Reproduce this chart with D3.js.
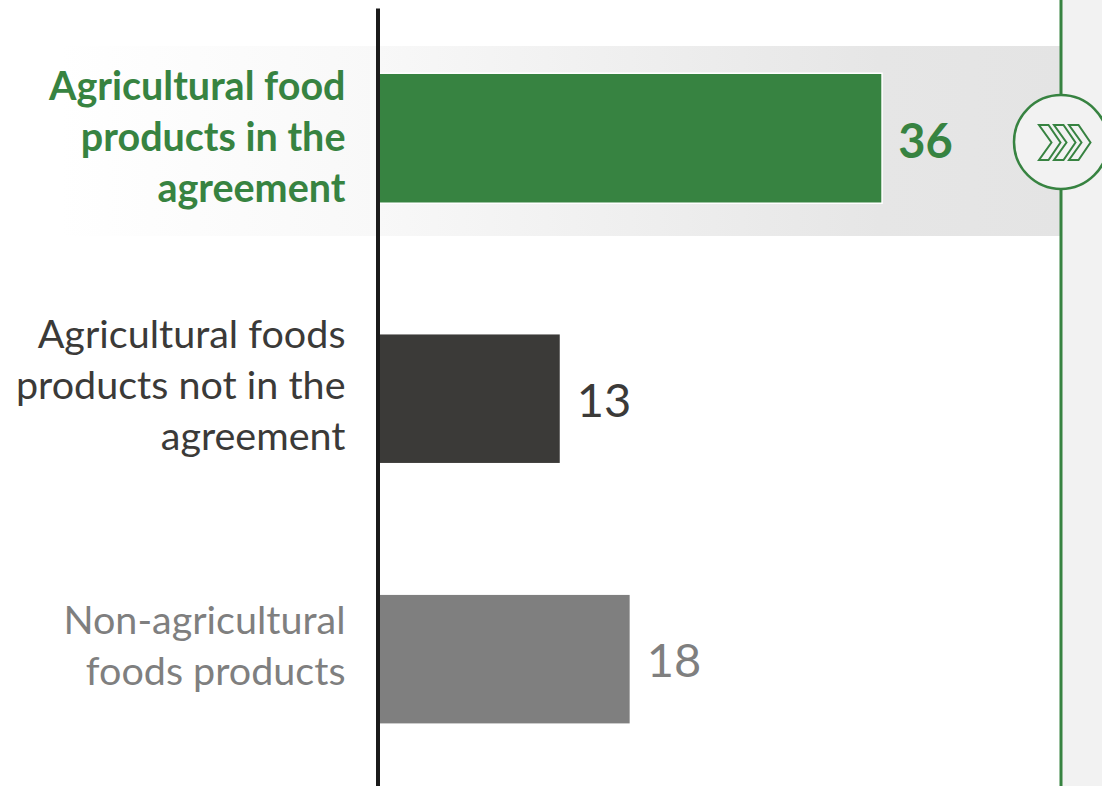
<!DOCTYPE html>
<html>
<head>
<meta charset="utf-8">
<script src="https://cdn.jsdelivr.net/npm/d3@7"></script>
<style>
html,body{margin:0;padding:0;background:#fff;overflow:hidden}
svg{display:block}
text{font-family:Lato,"Open Sans",sans-serif}
</style>
</head>
<body>
<svg id="chart" width="1102" height="786"></svg>
<script>
// Product groups, top to bottom, with their wrapped label lines
const categories = ["in", "notIn", "nonAg"];
const labelLines = [
  ["Agricultural food", "products in the", "agreement"],
  ["Agricultural foods", "products not in the", "agreement"],
  ["Non-agricultural", "foods products"]
];
const values = [36, 13, 18];
const barColors = ["#378341", "#3b3a38", "#7f7f7f"];
const textColors = ["#378341", "#3b3a38", "#7f7f7f"];
const textWeights = [700, 400, 400];

const width = 1102, height = 786;
const axisX = 378, panelX = 1061;
const green = "#378341";

const svg = d3.select("#chart");
const defs = svg.append("defs");

const x = d3.scaleLinear().domain([0, 36]).range([axisX, 881.3]);
const y = d3.scaleBand().domain(categories).range([21.9, 775.5]).paddingInner(0.5067).paddingOuter(0.2);

// Pale side panel on the right
svg.append("rect").attr("x", panelX).attr("y", 0).attr("width", width - panelX).attr("height", height).attr("fill", "#f2f2f2");

// Highlight band behind the first group, fading out to the left
const grad = defs.append("linearGradient").attr("id", "band");
grad.append("stop").attr("offset", 0).attr("stop-color", "#ffffff");
grad.append("stop").attr("offset", 0.318).attr("stop-color", "#f8f8f8");
grad.append("stop").attr("offset", 0.82).attr("stop-color", "#e6e6e6");
grad.append("stop").attr("offset", 1).attr("stop-color", "#e4e4e4");
svg.append("rect").attr("x", 60).attr("y", 46).attr("width", panelX - 60).attr("height", 190).attr("fill", "url(#band)");

// Green rule along the panel edge
svg.append("line").attr("x1", panelX).attr("x2", panelX).attr("y1", 0).attr("y2", height)
  .attr("stroke", green).attr("stroke-width", 3);

// Bars; the highlighted one carries a thin white outline
svg.selectAll("rect.bar").data(categories).join("rect")
  .attr("class", "bar")
  .attr("x", x(0))
  .attr("y", d => y(d))
  .attr("width", (d, i) => x(values[i]) - x(0))
  .attr("height", y.bandwidth())
  .attr("fill", (d, i) => barColors[i])
  .attr("stroke", (d, i) => i === 0 ? "#fff" : "none")
  .attr("stroke-width", 3)
  .attr("paint-order", "stroke");

// Value labels
const valueNudge = [2, 0, 0];
svg.selectAll("text.value").data(categories).join("text")
  .attr("class", "value")
  .attr("x", (d, i) => x(values[i]) + 17)
  .attr("y", (d, i) => y(d) + y.bandwidth() / 2 + 18 + valueNudge[i])
  .attr("font-size", 47)
  .attr("font-weight", (d, i) => textWeights[i])
  .attr("fill", (d, i) => textColors[i])
  .text((d, i) => values[i]);

// Right-aligned category labels; the highlighted block sits lower than the others
const lineHeight = 51;
const labelNudge = [13, 0, 0];
categories.forEach((c, i) => {
  const lines = labelLines[i];
  const mid = y(c) + y.bandwidth() / 2;
  const first = mid - (lines.length - 1) * lineHeight / 2 + labelNudge[i];
  svg.append("text")
    .attr("text-anchor", "end")
    .attr("font-size", 39.5)
    .attr("font-weight", textWeights[i])
    .attr("fill", textColors[i])
    .selectAll("tspan").data(lines).join("tspan")
    .attr("x", 345.5)
    .attr("y", (d, j) => first + j * lineHeight)
    .text(d => d);
});

// Vertical baseline
svg.append("line").attr("x1", axisX).attr("x2", axisX).attr("y1", 8.5).attr("y2", height)
  .attr("stroke", "#1a1a1a").attr("stroke-width", 4);

// Circle badge with triple chevrons on the panel rule
const cy = 142;
svg.append("circle").attr("cx", panelX).attr("cy", cy).attr("r", 47)
  .attr("fill", "#f2f2f2").attr("stroke", green).attr("stroke-width", 2.5);
const chevron = d3.line();
[0, 15, 30].forEach(dx => {
  const ox = 1039 + dx;
  svg.append("path")
    .attr("d", chevron([[ox, 125], [ox + 9.5, 125], [ox + 21.5, 142.5], [ox + 9.5, 160], [ox, 160], [ox + 12.5, 142.5]]) + "Z")
    .attr("fill", "#f2f2f2").attr("stroke", green).attr("stroke-width", 2);
});
</script>
</body>
</html>
